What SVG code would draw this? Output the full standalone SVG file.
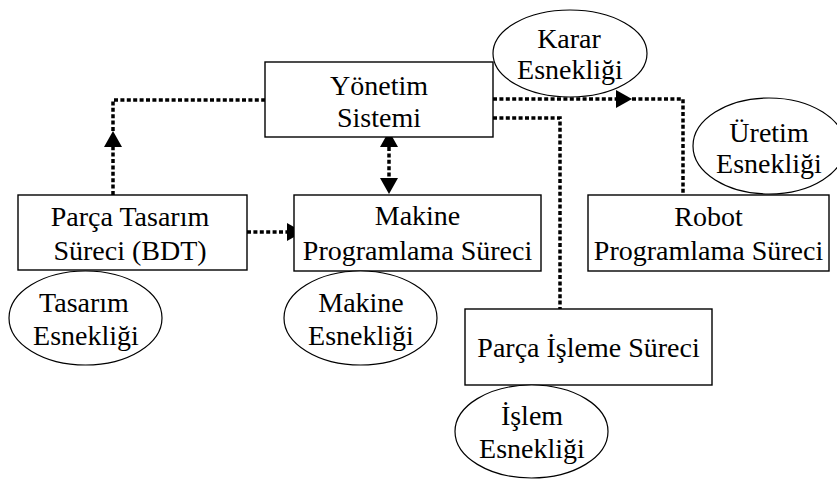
<svg xmlns="http://www.w3.org/2000/svg" width="837" height="480" viewBox="0 0 837 480">
<defs>
<style>
.box{fill:#fff;stroke:#000;stroke-width:1.4}
.ell{fill:#fff;stroke:#000;stroke-width:1.2}
.t{font-family:"Liberation Serif","Times New Roman",serif;font-size:28px;fill:#000;text-anchor:middle}
.dot{fill:none;stroke:#000;stroke-width:3.5;stroke-dasharray:4 2.4}
</style>
<marker id="ah" markerUnits="userSpaceOnUse" markerWidth="18" markerHeight="20" refX="0" refY="9" orient="auto-start-reverse">
<path d="M0,0 L16,9 L0,18 z" fill="#000"/>
</marker>
</defs>
<rect width="837" height="480" fill="#fff"/>
<g id="connectors">
<path class="dot" d="M113,195 V147" marker-end="url(#ah)"/>
<path class="dot" d="M113,131 V100 H265"/>
<path class="dot" d="M493,99 H616" marker-end="url(#ah)"/>
<path class="dot" d="M632,99 H683 V195"/>
<path class="dot" d="M389,147 V178" marker-start="url(#ah)" marker-end="url(#ah)"/>
<path class="dot" d="M247,232 H287" marker-end="url(#ah)"/>
<path class="dot" d="M493,118 H560 V309"/>
</g>
<g id="yonetim">
<rect class="box" x="265" y="62" width="228" height="75"/>
<text class="t" x="379" y="95">Yönetim</text>
<text class="t" x="379" y="127">Sistemi</text>
</g>
<g id="karar">
<ellipse class="ell" cx="570" cy="53.5" rx="77" ry="43.5"/>
<text class="t" x="569" y="48">Karar</text>
<text class="t" x="570" y="79">Esnekliği</text>
</g>
<g id="parca-tasarim">
<rect class="box" x="18" y="195" width="229" height="75"/>
<text class="t" x="130" y="226">Parça Tasarım</text>
<text class="t" x="130" y="260">Süreci (BDT)</text>
</g>
<g id="tasarim">
<ellipse class="ell" cx="85.5" cy="318" rx="76.5" ry="47"/>
<text class="t" x="84" y="312">Tasarım</text>
<text class="t" x="86" y="345">Esnekliği</text>
</g>
<g id="makine-prog">
<rect class="box" x="294" y="195" width="247" height="76"/>
<text class="t" x="417.5" y="225">Makine</text>
<text class="t" x="417.5" y="260">Programlama Süreci</text>
</g>
<g id="makine">
<ellipse class="ell" cx="360.5" cy="318" rx="76.5" ry="47"/>
<text class="t" x="361" y="312">Makine</text>
<text class="t" x="361" y="345">Esnekliği</text>
</g>
<g id="uretim">
<ellipse class="ell" cx="769" cy="146" rx="76" ry="48"/>
<text class="t" x="769" y="142">Üretim</text>
<text class="t" x="769" y="173">Esnekliği</text>
</g>
<g id="robot">
<rect class="box" x="588" y="195" width="241" height="76"/>
<text class="t" x="708.5" y="226">Robot</text>
<text class="t" x="708.5" y="260">Programlama Süreci</text>
</g>
<g id="parca-isleme">
<rect class="box" x="465" y="309" width="247" height="76"/>
<text class="t" x="588.5" y="357">Parça İşleme Süreci</text>
</g>
<g id="islem">
<ellipse class="ell" cx="531.5" cy="431.5" rx="76.5" ry="46.5"/>
<text class="t" x="532" y="425">İşlem</text>
<text class="t" x="532" y="458">Esnekliği</text>
</g>
</svg>
